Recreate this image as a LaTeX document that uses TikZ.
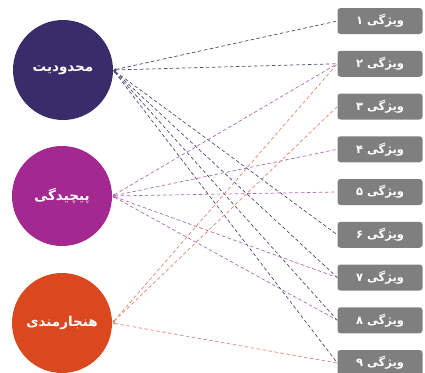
\documentclass[tikz,border=0pt]{standalone}
\usepackage{fontspec}
\newfontfamily\farsifont[Script=Arabic]{DejaVu Sans}
\TeXXeTstate=1
\usetikzlibrary{arrows.meta}
\definecolor{limitcol}{HTML}{3A2C6A}
\definecolor{complexcol}{HTML}{A3288F}
\definecolor{normcol}{HTML}{D9481F}
\definecolor{boxgray}{HTML}{7F7F7F}
\definecolor{limitline}{HTML}{4E4B72}
\definecolor{complexline}{HTML}{B06AAE}
\definecolor{normline}{HTML}{E2866A}

\begin{document}
\begin{tikzpicture}[x=1pt,y=-1pt,
  bigcircle/.style={circle,minimum size=100pt,inner sep=0pt,text=white,font=\farsifont\bfseries\fontsize{13.5}{15}\selectfont},
  featbox/.style={rounded corners=3pt,fill=boxgray,minimum width=85pt,minimum height=26pt,inner sep=0pt,text=white,font=\farsifont\bfseries\fontsize{11.5}{13}\selectfont},
  link/.style={dash pattern=on 3.5pt off 2.5pt,line width=0.7pt,{Latex[length=3pt,width=2.5pt]}-}]
	\useasboundingbox (0,0) rectangle (425,372);

	% circles on the left
	\node [bigcircle,fill=limitcol]   (limit)   at (63,70)  {\beginR محدودیت\endR};
	\node [bigcircle,fill=complexcol] (complex) at (62,196) {\beginR پیچیدگی\endR};
	\node [bigcircle,fill=normcol]    (norm)    at (62,323) {\beginR هنجارمندی\endR};

	% feature boxes on the right
	\foreach \i/\d in {1/۱,2/۲,3/۳,4/۴,5/۵,6/۶,7/۷,8/۸,9/۹}
		\node [featbox] (f\i) at (380,{21+42.75*(\i-1)}) {\beginR ویژگی \d\endR};

	\foreach \j in {1,2,6,7,8,9}
		\draw [link,limitline] (limit.east) -- (f\j.west);
	\foreach \j in {2,4,5,7,8}
		\draw [link,complexline] (complex.east) -- (f\j.west);
	\foreach \j in {2,3,9}
		\draw [link,normline] (norm.east) -- (f\j.west);
\end{tikzpicture}
\end{document}
